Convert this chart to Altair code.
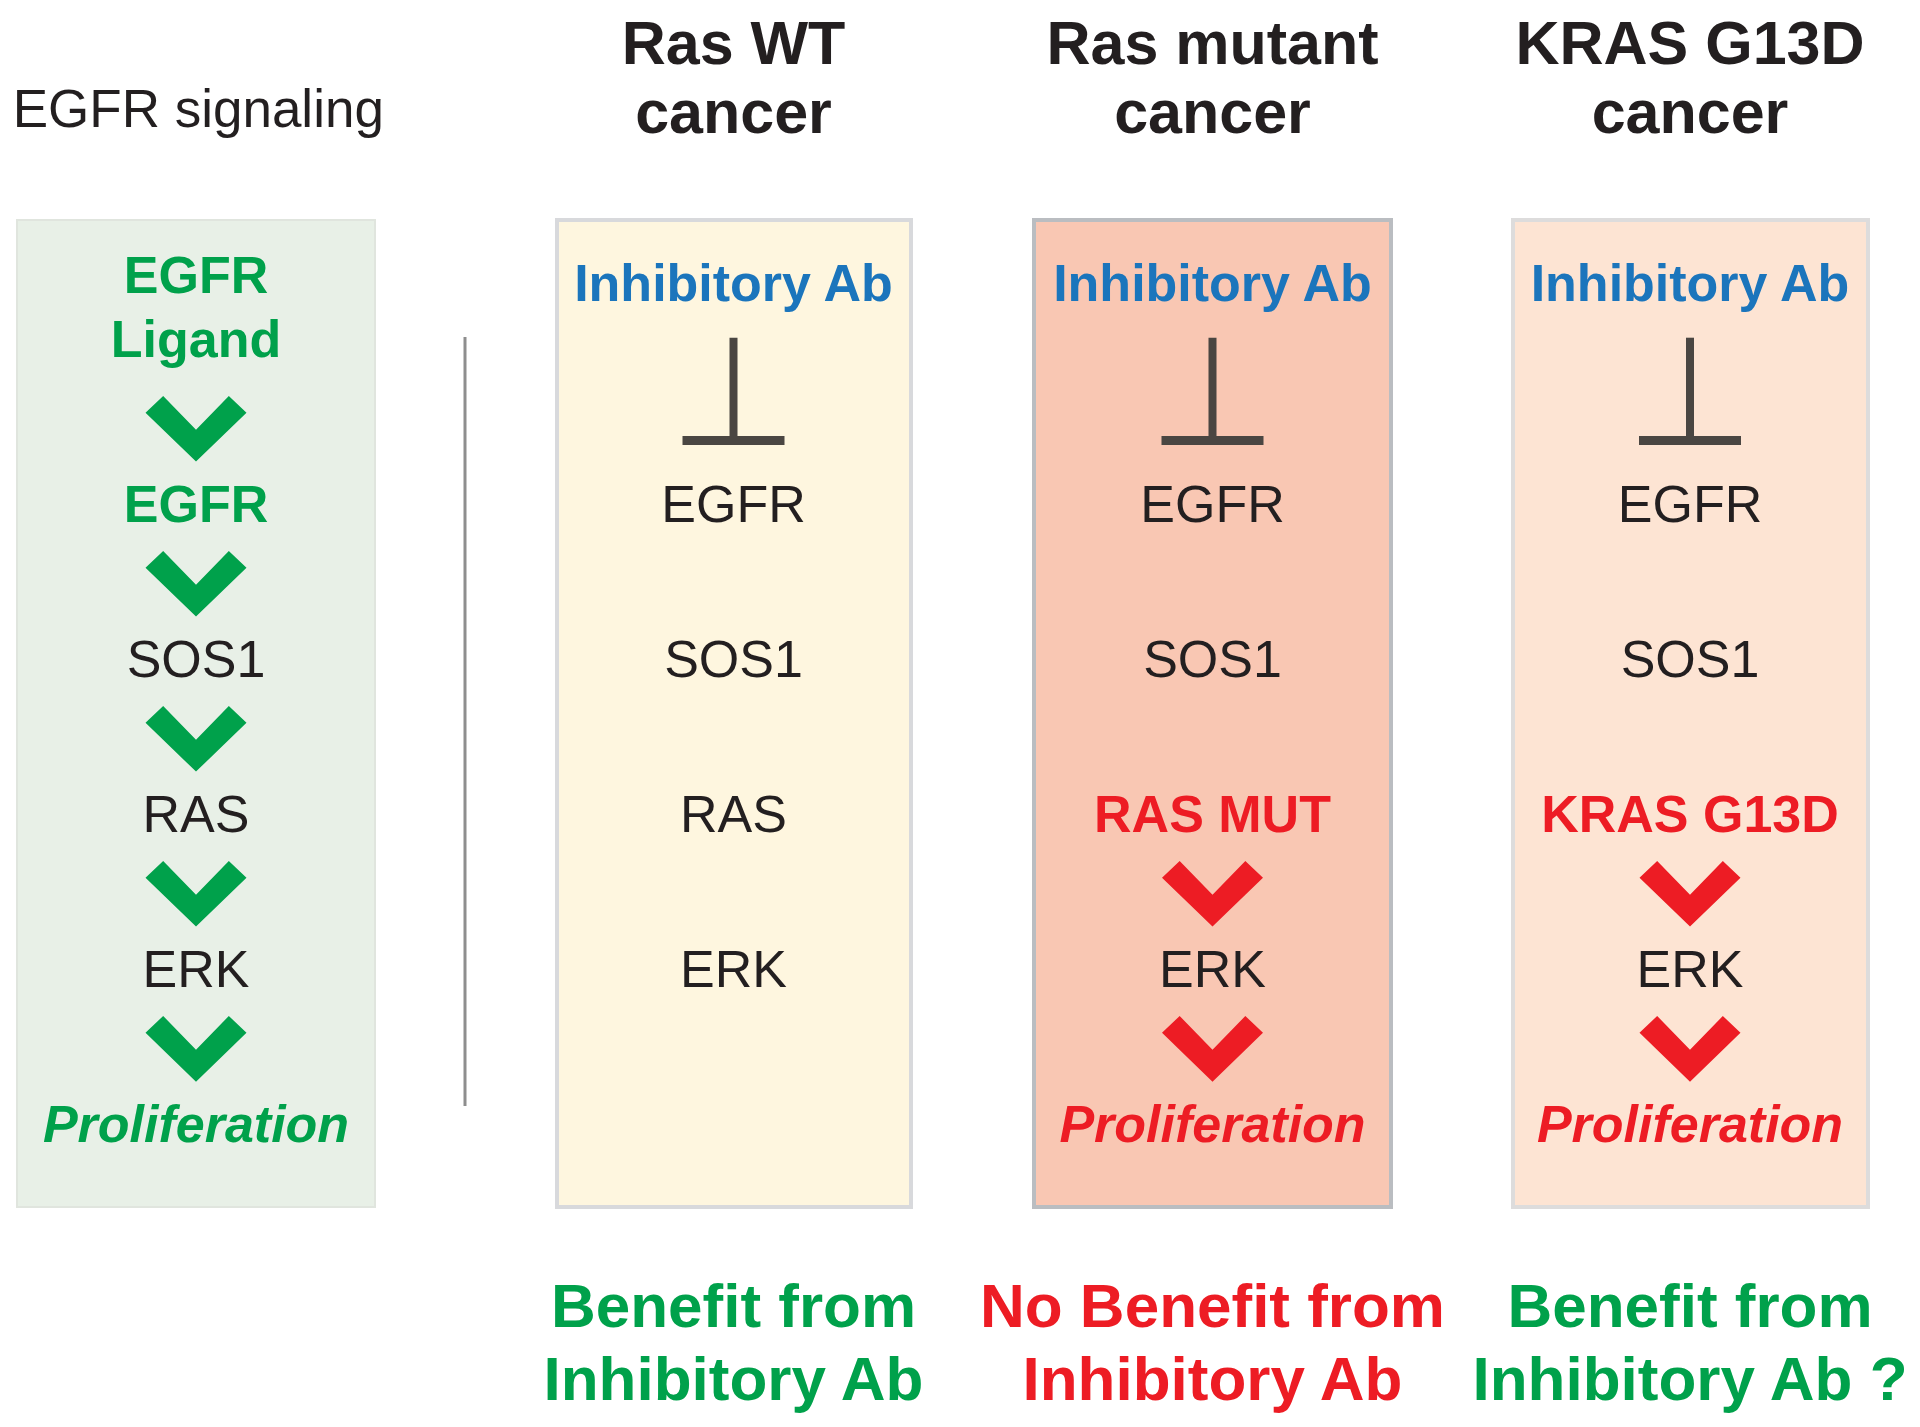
import altair as alt
import pandas as pd

FONT = "Liberation Sans, Arial, Helvetica, sans-serif"

# ---------------- content ----------------
TITLE_LEFT = "EGFR signaling"
HEADERS = [["Ras WT", "cancer"], ["Ras mutant", "cancer"], ["KRAS G13D", "cancer"]]
OUTCOMES = [["Benefit from", "Inhibitory Ab"],
            ["No Benefit from", "Inhibitory Ab"],
            ["Benefit from", "Inhibitory Ab ?"]]
OUTCOME_COLORS = ["green", "red", "green"]
INHIBITOR = "Inhibitory Ab"
SIGNAL_TOP = ["EGFR", "Ligand"]
NODES = ["EGFR", "SOS1", "RAS", "ERK", "Proliferation"]
RAS_LABELS = ["RAS", "RAS MUT", "KRAS G13D"]          # row 3 label in each cancer panel
RAS_MUTATED = [False, True, True]
SIGNAL_ARROW_ROWS = [1, 2, 3, 4, 5]                   # chevrons leading into these rows
CANCER_ARROW_ROWS = [[], [4, 5], [4, 5]]
PANEL_FILLS = ["#e8f0e7", "#fef6df", "#f9c7b3", "#fde4d3"]
PANEL_STROKES = ["#e0e5de", "#d8d9dc", "#babdc1", "#dddcdc"]
PANEL_STROKE_W = [2, 4, 4, 4]

PALETTE = {"green": "#00a14b", "red": "#ed1c24", "blue": "#1b75bc",
           "black": "#231f20", "bar": "#4a4642", "sep": "#8e8e8e"}

# ---------------- layout (page pixels) ----------------
COL_X = [196, 733.5, 1212.5, 1690]
PANEL_X = [(17, 375), (557, 911), (1034, 1391), (1513, 1868)]
PANEL_Y = (220, 1207)
ROW_BASE, ROW_PITCH = 521.7, 155.0          # baseline of node row 1 and row spacing
CHEVRON_ABOVE = 92.9                        # chevron centre above the row baseline
HEADER_Y = [63.5, 133.0]
OUTCOME_Y = [1326.7, 1400.0]
INHIB_Y = 300.7
SIGNAL_TOP_Y = [293.3, 356.7]
TITLE_XY = (12.7, 127.0)
TBAR_TOP, TBAR_Y, TBAR_HALF = 337.7, 440.4, 51
SEP_X, SEP_Y = 465, (337, 1106)


def row_y(r):
    return ROW_BASE + (r - 1) * ROW_PITCH


xs = alt.Scale(domain=[8, 1912], nice=False, zero=False)
ys = alt.Scale(domain=[8, 1419], nice=False, zero=False, reverse=True)


def X(f="x"):
    return alt.X(f"{f}:Q", scale=xs, axis=None)


def Y(f="y"):
    return alt.Y(f"{f}:Q", scale=ys, axis=None)


# ---------------- data tables ----------------
panels = pd.DataFrame({
    "x": [p[0] for p in PANEL_X], "x2": [p[1] for p in PANEL_X],
    "y": [PANEL_Y[0]] * 4, "y2": [PANEL_Y[1]] * 4,
    "fill": PANEL_FILLS, "stroke": PANEL_STROKES, "sw": PANEL_STROKE_W,
})

regular, bold, italic, header, outcome = [], [], [], [], []

# signalling panel
for t, y in zip(SIGNAL_TOP, SIGNAL_TOP_Y):
    bold.append(dict(x=COL_X[0], y=y, text=t, color=PALETTE["green"]))
for r, t in enumerate(NODES, start=1):
    if t == "EGFR":
        bold.append(dict(x=COL_X[0], y=row_y(r), text=t, color=PALETTE["green"]))
    elif t == "Proliferation":
        italic.append(dict(x=COL_X[0], y=row_y(r), text=t, color=PALETTE["green"]))
    else:
        regular.append(dict(x=COL_X[0], y=row_y(r), text=t, color=PALETTE["black"]))

# cancer panels
for i in range(3):
    cx = COL_X[i + 1]
    bold.append(dict(x=cx, y=INHIB_Y, text=INHIBITOR, color=PALETTE["blue"]))
    for r, t in enumerate(NODES, start=1):
        if r == 3:
            if RAS_MUTATED[i]:
                bold.append(dict(x=cx, y=row_y(r), text=RAS_LABELS[i], color=PALETTE["red"]))
            else:
                regular.append(dict(x=cx, y=row_y(r), text=RAS_LABELS[i], color=PALETTE["black"]))
        elif t == "Proliferation":
            if RAS_MUTATED[i]:
                italic.append(dict(x=cx, y=row_y(r), text=t, color=PALETTE["red"]))
        else:
            regular.append(dict(x=cx, y=row_y(r), text=t, color=PALETTE["black"]))
    for line, y in zip(HEADERS[i], HEADER_Y):
        header.append(dict(x=cx, y=y, text=line, color=PALETTE["black"]))
    for line, y in zip(OUTCOMES[i], OUTCOME_Y):
        outcome.append(dict(x=cx, y=y, text=line, color=PALETTE[OUTCOME_COLORS[i]]))

title = pd.DataFrame([dict(x=TITLE_XY[0], y=TITLE_XY[1], text=TITLE_LEFT, color=PALETTE["black"])])

chev = [dict(x=COL_X[0], y=row_y(r) - CHEVRON_ABOVE, color=PALETTE["green"]) for r in SIGNAL_ARROW_ROWS]
for i, rows in enumerate(CANCER_ARROW_ROWS):
    chev += [dict(x=COL_X[i + 1], y=row_y(r) - CHEVRON_ABOVE, color=PALETTE["red"]) for r in rows]
chev = pd.DataFrame(chev)

tstem = pd.DataFrame([dict(x=COL_X[i + 1], y=TBAR_TOP, y2=TBAR_Y) for i in range(3)])
tbar = pd.DataFrame([dict(x=COL_X[i + 1] - TBAR_HALF, x2=COL_X[i + 1] + TBAR_HALF, y=TBAR_Y) for i in range(3)])
sep = pd.DataFrame([dict(x=SEP_X, y=SEP_Y[0], y2=SEP_Y[1])])

# ---------------- marks ----------------
panel_layer = alt.Chart(panels).mark_rect().encode(
    x=X(), x2=alt.X2("x2:Q"), y=Y(), y2=alt.Y2("y2:Q"),
    fill=alt.Fill("fill:N", scale=None),
    stroke=alt.Stroke("stroke:N", scale=None),
    strokeWidth=alt.StrokeWidth("sw:Q", scale=None),
)

sep_layer = alt.Chart(sep).mark_rule(color=PALETTE["sep"], strokeWidth=3).encode(
    x=X(), y=Y(), y2=alt.Y2("y2:Q"))

stem_layer = alt.Chart(tstem).mark_rule(color=PALETTE["bar"], strokeWidth=8).encode(
    x=X(), y=Y(), y2=alt.Y2("y2:Q"))
bar_layer = alt.Chart(tbar).mark_rule(color=PALETTE["bar"], strokeWidth=9).encode(
    x=X(), x2=alt.X2("x2:Q"), y=Y())

CHEVRON = "M-1,-0.32L-0.65,-0.65L0,0.02L0.65,-0.65L1,-0.32L0,0.65Z"
chev_layer = alt.Chart(chev).mark_point(
    shape=CHEVRON, filled=True, size=10201, opacity=1, strokeWidth=0
).encode(x=X(), y=Y(), color=alt.Color("color:N", scale=None))


def text_layer(rows, size, weight="normal", style="normal", align="center"):
    df = rows if isinstance(rows, pd.DataFrame) else pd.DataFrame(rows)
    return alt.Chart(df).mark_text(
        font=FONT, fontSize=size, fontWeight=weight, fontStyle=style,
        align=align, baseline="alphabetic"
    ).encode(x=X(), y=Y(), text="text:N", color=alt.Color("color:N", scale=None))


layers = [
    panel_layer, sep_layer, stem_layer, bar_layer, chev_layer,
    text_layer(title, 53, align="left"),
    text_layer(header, 61, "bold"),
    text_layer(regular, 52),
    text_layer(bold, 52, "bold"),
    text_layer(italic, 52, "bold", "italic"),
    text_layer(outcome, 62, "bold"),
]

chart = alt.layer(*layers).properties(
    width=1904, height=1411, padding=0, autosize=alt.AutoSizeParams(type="none"),
    background="white",
).configure_view(strokeWidth=0)

chart.save("out.html", embed_options={"renderer": "svg", "actions": False})
